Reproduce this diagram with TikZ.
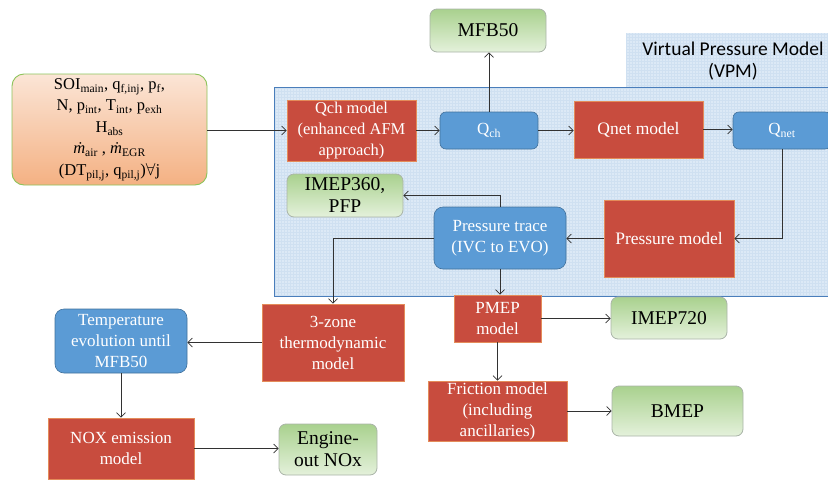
\documentclass[tikz,border=0pt]{standalone}
\usepackage{fontspec}
\setmainfont{Liberation Serif}
\newfontfamily\calib{Carlito}
\usetikzlibrary{arrows.meta}
\definecolor{redfill}{RGB}{200,76,62}
\definecolor{redline}{RGB}{228,140,90}
\definecolor{blufill}{RGB}{91,155,213}
\definecolor{bluline}{RGB}{65,113,156}
\definecolor{grntop}{RGB}{169,209,142}
\definecolor{grnbot}{RGB}{228,241,219}
\definecolor{grnline}{RGB}{170,180,168}
\definecolor{orgtop}{RGB}{251,229,214}
\definecolor{orgbot}{RGB}{244,177,131}
\definecolor{orgline}{RGB}{140,195,90}
\definecolor{vpmfill}{RGB}{220,233,246}
\definecolor{vpmgrid}{RGB}{207,224,241}
\definecolor{vpmline}{RGB}{74,126,187}
\definecolor{arrc}{RGB}{50,50,50}
\tikzset{
  sz/.style 2 args={minimum width=#1pt,minimum height=#2pt},
  base/.style={inner sep=0pt, align=center},
  redbox/.style={base, draw=redline, fill=redfill, line width=0.6pt, text=white, font=\fontsize{17}{21}\selectfont},
  blubox/.style={base, draw=bluline, fill=blufill, line width=0.6pt, rounded corners=6pt, text=white, font=\fontsize{17}{21}\selectfont},
  grnbox/.style={base, draw=grnline, top color=grntop, bottom color=grnbot, line width=0.8pt, rounded corners=7pt, font=\fontsize{19.5}{22}\selectfont},
  inbox/.style={base, draw=orgline, top color=orgtop, bottom color=orgbot, line width=0.9pt, rounded corners=12pt, font=\fontsize{16.5}{21.5}\selectfont},
  arr/.style={draw=arrc, line width=0.7pt, -{Straight Barb[length=4.5pt,width=9pt]}},
}
\begin{document}
\begin{tikzpicture}[x=1pt,y=-1pt]
\useasboundingbox (0,0) rectangle (828,482);
% VPM background
\begin{scope}
  \clip (274,87) -- (626,87) -- (626,33) -- (832,33) -- (832,296) -- (274,296) -- cycle;
  \fill[vpmfill] (274,33) rectangle (832,296);
  \foreach \gx in {275,278,...,832} \draw[vpmgrid, line width=0.3pt] (\gx,33) -- (\gx,296);
  \foreach \gy in {34,37,...,296} \draw[vpmgrid, line width=0.3pt] (274,\gy) -- (832,\gy);
\end{scope}
\draw[vpmline, line width=0.9pt] (274,87) rectangle (834,296);
\node[base, font=\calib\fontsize{19.5}{22}\selectfont] (vpmt) at (733,61) {Virtual Pressure Model\\(VPM)};

% nodes
\node[inbox, sz={195}{111}] (input) at (109.5,129.5) {SOI\textsubscript{main}, q\textsubscript{f,inj}, p\textsubscript{f},\\N, p\textsubscript{int}, T\textsubscript{int}, p\textsubscript{exh}\\H\textsubscript{abs}\\\textit{ṁ}\textsubscript{air} , \textit{ṁ}\textsubscript{EGR}\\(DT\textsubscript{pil,j}, q\textsubscript{pil,j})$\forall$j};
\node[grnbox, sz={116}{43}] (mfb) at (488,30.5) {MFB50};
\node[redbox, sz={129}{61}, font=\fontsize{16.5}{21}\selectfont] (qchm) at (351.5,130.5) {Qch model\\(enhanced AFM\\approach)};
\node[blubox, sz={98}{37}] (qch) at (489,130.5) {Q\textsubscript{ch}};
\node[redbox, sz={129}{57}, font=\fontsize{17.5}{21}\selectfont] (qnetm) at (638.5,129.5) {Qnet model};
\node[blubox, sz={98}{37}] (qnet) at (782,130.5) {Q\textsubscript{net}};
\node[grnbox, sz={116}{43}] (imep360) at (345,195.5) {IMEP360,\\PFP};
\node[blubox, sz={132}{62}, rounded corners=9pt] (ptrace) at (500,238) {Pressure trace\\(IVC to EVO)};
\node[redbox, sz={130}{77}, font=\fontsize{17.5}{21}\selectfont] (pmodel) at (669,238.5) {Pressure model};
\node[redbox, sz={87}{47}] (pmep) at (497.5,318.5) {PMEP\\model};
\node[grnbox, sz={116}{42}] (imep720) at (669,318) {IMEP720};
\node[redbox, sz={139}{60}] (fric) at (497.5,411) {Friction model\\(including\\ancillaries)};
\node[grnbox, sz={131}{50}] (bmep) at (677.5,411) {BMEP};
\node[redbox, sz={142}{77}] (zone) at (333,342.5) {3-zone\\thermodynamic\\model};
\node[blubox, sz={132}{64}, rounded corners=9pt] (temp) at (121,341) {Temperature\\evolution until\\MFB50};
\node[redbox, sz={146}{61}] (nox) at (121,448.5) {NOX emission\\model};
\node[grnbox, sz={98}{51}] (eng) at (328,449.5) {Engine-\\out NOx};

% connectors
\draw[arr] (input.east |- qchm.west) -- (qchm.west);
\draw[arr] (qchm.east) -- (qch.west);
\draw[arr] (qch.north) -- (qch.north |- mfb.south);
\draw[arr] (qch.east) -- (qch.east -| qnetm.west);
\draw[arr] (qnetm.east) -- (qnetm.east -| qnet.west);
\draw[arr] (qnet.south) |- (pmodel.east);
\draw[arr] (pmodel.west) -- (pmodel.west -| ptrace.east);
\draw[arr] (ptrace.north) |- (imep360.east);
\draw[arr] (ptrace.west) -| (zone.north);
\draw[arr] (ptrace.south) -- (ptrace.south |- pmep.north);
\draw[arr] (pmep.east) -- (pmep.east -| imep720.west);
\draw[arr] (pmep.south) -- (pmep.south |- fric.north);
\draw[arr] (fric.east) -- (fric.east -| bmep.west);
\draw[arr] (zone.west) -- (zone.west -| temp.east);
\draw[arr] (temp.south) -- (nox.north);
\draw[arr] (nox.east) -- (nox.east -| eng.west);
\end{tikzpicture}
\end{document}
